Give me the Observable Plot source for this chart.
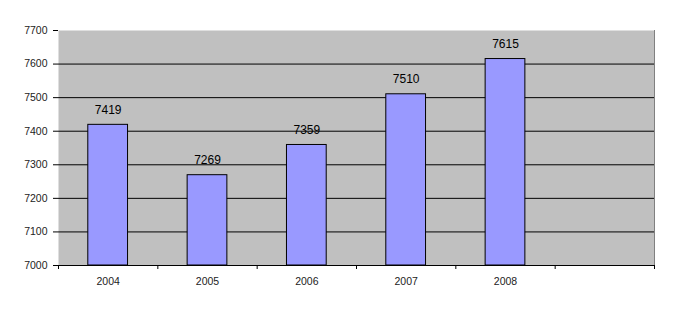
<!DOCTYPE html>
<html>
<head>
<meta charset="utf-8">
<script src="https://cdn.jsdelivr.net/npm/d3@7"></script>
<script src="https://cdn.jsdelivr.net/npm/@observablehq/plot@0.6"></script>
<style>
  html, body { margin: 0; padding: 0; background: #fff; }
  #chart svg { display: block; }
</style>
</head>
<body>
<div id="chart"></div>
<script>
const years = ["2004", "2005", "2006", "2007", "2008"];
const values = [7419, 7269, 7359, 7510, 7615];
const categories = [...years, ""];
const yTicks = [7000, 7100, 7200, 7300, 7400, 7500, 7600, 7700];
const gridTicks = [7100, 7200, 7300, 7400, 7500, 7600];

const data = years.map((year, i) => ({year, value: values[i]}));

const W = 673, H = 316;
const mL = 58, mR = 19, mT = 30, mB = 51;
const step = (W - mL - mR) / categories.length;
const yMin = yTicks[0], yMax = yTicks[yTicks.length - 1];

const chart = Plot.plot({
  width: W,
  height: H,
  marginLeft: mL,
  marginRight: mR,
  marginTop: mT,
  marginBottom: mB,
  style: {fontFamily: "'Liberation Sans', Arial, sans-serif", background: "#fff", overflow: "visible"},
  x: {type: "band", domain: categories, paddingInner: 0.6, paddingOuter: 0.3, round: false, label: null},
  y: {domain: [yMin, yMax], label: null},
  marks: [
    Plot.frame({fill: "#c0c0c0"}),
    Plot.frame({anchor: "right", stroke: "#808080"}),
    Plot.gridY(gridTicks, {stroke: "#000", strokeOpacity: 1}),
    Plot.ruleY([yMin], {stroke: "#000"}),
    Plot.axisY({ticks: yTicks, tickSize: 5, tickPadding: 6, tickFormat: d => String(d), fontSize: 10.5, fill: "#222", stroke: "#000"}),
    Plot.axisX({tickSize: 4, dx: -step / 2, tickFormat: null, stroke: "#000"}),
    Plot.axisX({ticks: [categories[categories.length - 1]], tickSize: 4, dx: step / 2, tickFormat: null, stroke: "#000"}),
    Plot.axisX({tickSize: 0, tickPadding: 12, fontSize: 10.5, fill: "#222"}),
    Plot.barY(data, {x: "year", y1: () => yMin, y2: "value", fill: "#9999ff", stroke: "#000", strokeWidth: 1}),
    Plot.text(data, {x: "year", y: "value", text: d => String(d.value), dy: -15, fontSize: 12, fill: "#000"})
  ]
});
document.getElementById("chart").appendChild(chart);
</script>
</body>
</html>
